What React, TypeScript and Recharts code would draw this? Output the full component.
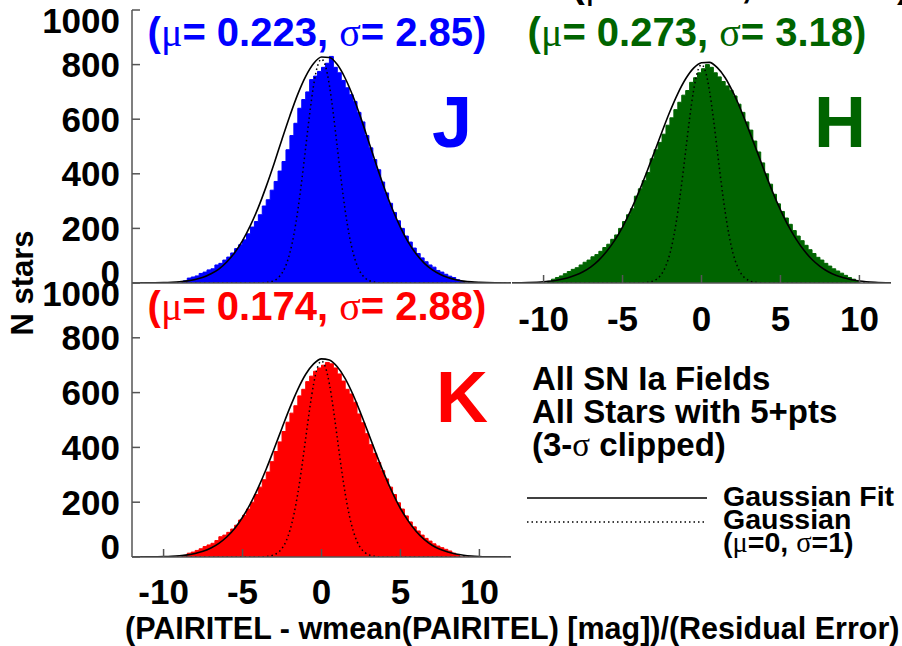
import React from 'react';
import { ComposedChart, Area, Line, XAxis, YAxis } from 'recharts';

const FONT = '"Liberation Sans", Arial, Helvetica, sans-serif';
const SERIF = '"Liberation Serif", "DejaVu Serif", serif';
const FRAME = '#555555';

const xTicks = [-10, -5, 0, 5, 10];
const yTicks = [0, 200, 400, 600, 800, 1000];

const binEdges = [
  -10, -9.75, -9.5, -9.25, -9, -8.75, -8.5, -8.25, -8, -7.75, -7.5, -7.25, -7, -6.75, -6.5, -6.25,
  -6, -5.75, -5.5, -5.25, -5, -4.75, -4.5, -4.25, -4, -3.75, -3.5, -3.25, -3, -2.75, -2.5, -2.25,
  -2, -1.75, -1.5, -1.25, -1, -0.75, -0.5, -0.25, 0, 0.25, 0.5, 0.75, 1, 1.25, 1.5, 1.75,
  2, 2.25, 2.5, 2.75, 3, 3.25, 3.5, 3.75, 4, 4.25, 4.5, 4.75, 5, 5.25, 5.5, 5.75,
  6, 6.25, 6.5, 6.75, 7, 7.25, 7.5, 7.75, 8, 8.25, 8.5, 8.75, 9, 9.25, 9.5, 9.75, 10,
];

const histJ = [
  0, 0, 0, 0, 0, 8, 18, 22, 26, 35, 40, 48, 52, 66, 72, 84,
  95, 110, 126, 140, 158, 180, 205, 225, 250, 282, 305, 340, 372, 410, 445, 488,
  540, 585, 640, 672, 700, 745, 758, 775, 790, 805, 830, 790, 770, 742, 715, 690,
  665, 625, 590, 540, 495, 452, 415, 370, 330, 292, 258, 228, 200, 172, 150, 128,
  108, 92, 78, 66, 58, 46, 40, 32, 25, 20, 12, 5, 0, 0, 0, 0, 0,
];

const histH = [
  0, 6, 14, 20, 26, 34, 42, 50, 56, 66, 76, 84, 96, 104, 116, 130,
  142, 160, 176, 200, 225, 250, 272, 318, 345, 375, 405, 455, 488, 515, 545, 578,
  605, 635, 662, 688, 705, 735, 752, 770, 785, 800, 790, 770, 755, 738, 722, 706,
  685, 655, 625, 590, 560, 520, 480, 440, 400, 362, 325, 290, 262, 238, 215, 192,
  172, 155, 138, 122, 108, 94, 84, 72, 62, 52, 44, 36, 28, 20, 14, 8, 0,
];

const histK = [
  0, 0, 0, 0, 0, 6, 14, 18, 24, 30, 38, 44, 50, 60, 74, 80,
  90, 102, 116, 135, 152, 175, 200, 228, 255, 282, 310, 348, 385, 420, 458, 492,
  525, 552, 588, 612, 640, 660, 678, 690, 700, 710, 705, 690, 668, 642, 612, 595,
  565, 522, 490, 450, 410, 378, 345, 315, 285, 255, 228, 198, 175, 150, 128, 110,
  95, 80, 68, 58, 48, 40, 34, 28, 22, 14, 8, 0, 0, 0, 0, 0, 0,
];

const fitX = [
  -12, -11, -10, -9.5, -9, -8.5, -8, -7.5, -7, -6.5, -6, -5.5, -5, -4.5, -4, -3.5, -3, -2.5, -2, -1.5, -1, -0.5,
  0, 0.5, 1, 1.5, 2, 2.5, 3, 3.5, 4, 4.5, 5, 5.5, 6, 6.5, 7, 7.5, 8, 8.5, 9, 9.5, 10, 11, 12,
];
const fitJ = [
  0.1, 0.4, 1.3, 2.5, 4.4, 7.7, 13, 21, 34, 51, 77, 111, 155, 211, 277, 354, 438, 527, 613, 692, 757, 804,
  828, 826, 800, 750, 683, 603, 516, 428, 344, 269, 204, 149, 106, 73, 49, 32, 20, 12, 7, 4, 2.3, 0.6, 0.2,
];
const fitH = [
  0.5, 1.5, 4.4, 7.2, 11.6, 18, 28, 41, 59, 84, 116, 156, 205, 263, 329, 401, 477, 554, 628, 694, 748, 787,
  807, 808, 789, 752, 698, 633, 560, 484, 407, 334, 268, 209, 160, 119, 86, 61, 42, 28, 19, 12, 7.5, 2.7, 0.9,
];
const fitK = [
  0.1, 0.4, 1.4, 2.6, 4.6, 7.8, 13, 21, 33, 50, 73, 104, 145, 195, 254, 321, 395, 471, 545, 612, 667, 705,
  723, 719, 694, 651, 592, 522, 447, 371, 299, 234, 177, 131, 93, 64, 43, 28, 18, 11, 6.6, 3.8, 2.1, 0.6, 0.2,
];

const unitX = [
  -12, -4, -3.5, -3.25, -3, -2.75, -2.5, -2.25, -2, -1.75, -1.5, -1.25, -1, -0.75, -0.5, -0.25,
  0, 0.25, 0.5, 0.75, 1, 1.25, 1.5, 1.75, 2, 2.25, 2.5, 2.75, 3, 3.25, 3.5, 4, 12,
];
const unitJ = [
  0, 0.2, 1.8, 4.2, 9.1, 18.7, 36, 65, 111, 177, 266, 375, 497, 619, 724, 795,
  820, 795, 724, 619, 497, 375, 266, 177, 111, 65, 36, 18.7, 9.1, 4.2, 1.8, 0.2, 0,
];
const unitH = [
  0, 0.2, 1.8, 4.1, 8.9, 18.2, 35, 64, 108, 173, 260, 366, 485, 604, 706, 775,
  800, 775, 706, 604, 485, 366, 260, 173, 108, 64, 35, 18.2, 8.9, 4.1, 1.8, 0.2, 0,
];
const unitK = [
  0, 0.2, 1.6, 3.6, 7.9, 16.3, 31, 57, 97, 155, 232, 327, 434, 540, 631, 693,
  715, 693, 631, 540, 434, 327, 232, 155, 97, 57, 31, 16.3, 7.9, 3.6, 1.6, 0.2, 0,
];

const XTick = (props: any) => {
  const { x, y, payload } = props;
  return (
    <text x={x} y={y} dy="0.71em" textAnchor="middle" fontFamily={FONT} fontWeight="bold" fontSize={35} fill="#000">
      {payload.value}
    </text>
  );
};

const YTick = (props: any) => {
  const { x, y, payload } = props;
  const v = payload.value;
  const shift = v === 0 ? -11 : v === 1000 ? 10 : 0;
  return (
    <text x={x} y={y + shift} dy="0.36em" textAnchor="end" fontFamily={FONT} fontWeight="bold" fontSize={35} fill="#000">
      {v}
    </text>
  );
};

type PanelProps = {
  hist: number[];
  fit: number[];
  unit: number[];
  color: string;
  width: number;
  height: number;
  margin: { top: number; right: number; bottom: number; left: number };
  xLabels: boolean;
  yLabels: boolean;
  xAxisHeight: number;
  yAxisWidth: number;
  tickMarginX: number;
};

function Panel(p: PanelProps) {
  const histData = binEdges.map((x, i) => ({ x, y: p.hist[i] }));
  const fitData = fitX.map((x, i) => ({ x, y: p.fit[i] }));
  const unitData = unitX.map((x, i) => ({ x, y: p.unit[i] }));
  const lineStyle = { stroke: FRAME, strokeWidth: 1.5 };
  return (
    <ComposedChart width={p.width} height={p.height} margin={p.margin}>
      <XAxis
        xAxisId="b"
        type="number"
        dataKey="x"
        domain={[-12, 12]}
        ticks={xTicks}
        allowDataOverflow
        interval={0}
        height={p.xAxisHeight}
        tickSize={-8}
        tickMargin={p.tickMarginX}
        tick={p.xLabels ? (props: any) => <XTick {...props} /> : false}
        axisLine={lineStyle}
        tickLine={lineStyle}
      />
      <XAxis
        xAxisId="t"
        orientation="top"
        type="number"
        domain={[-12, 12]}
        ticks={xTicks}
        allowDataOverflow
        interval={0}
        height={0}
        tickSize={-8}
        tick={false}
        axisLine={lineStyle}
        tickLine={lineStyle}
      />
      <YAxis
        yAxisId="l"
        type="number"
        domain={[0, 1000]}
        ticks={yTicks}
        allowDataOverflow
        interval={0}
        width={p.yAxisWidth}
        tickSize={-8}
        tickMargin={20}
        tick={p.yLabels ? (props: any) => <YTick {...props} /> : false}
        axisLine={lineStyle}
        tickLine={lineStyle}
      />
      <YAxis
        yAxisId="r"
        orientation="right"
        type="number"
        domain={[0, 1000]}
        ticks={yTicks}
        allowDataOverflow
        interval={0}
        width={0}
        tickSize={-8}
        tick={false}
        axisLine={lineStyle}
        tickLine={lineStyle}
      />
      <Area
        xAxisId="b"
        yAxisId="l"
        data={histData}
        dataKey="y"
        type="stepAfter"
        fill={p.color}
        fillOpacity={1}
        stroke={p.color}
        strokeWidth={1}
        dot={false}
        activeDot={false}
        isAnimationActive={false}
      />
      <Line
        xAxisId="b"
        yAxisId="l"
        data={unitData}
        dataKey="y"
        type="monotone"
        stroke="#000"
        strokeWidth={1.5}
        strokeDasharray="1.5 3"
        dot={false}
        activeDot={false}
        isAnimationActive={false}
      />
      <Line
        xAxisId="b"
        yAxisId="l"
        data={fitData}
        dataKey="y"
        type="monotone"
        stroke="#000"
        strokeWidth={1.6}
        dot={false}
        activeDot={false}
        isAnimationActive={false}
      />
    </ComposedChart>
  );
}

const Greek = ({ ch }: { ch: string }) => (
  <tspan fontFamily={SERIF} fontWeight="normal">
    {ch}
  </tspan>
);

const Title = ({ x, y, color, mu, sigma }: { x: number; y: number; color: string; mu: string; sigma: string }) => (
  <text x={x} y={y} textAnchor="middle" fontFamily={FONT} fontWeight="bold" fontSize={40} fill={color}>
    {'('}
    <Greek ch="μ" />
    {'= ' + mu + ', '}
    <Greek ch="σ" />
    {'= ' + sigma + ')'}
  </text>
);

export default function App() {
  return (
    <div style={{ position: 'absolute', left: 0, top: 0, width: 902, height: 646, background: '#fff', overflow: 'hidden' }}>
      <div style={{ position: 'absolute', left: 0, top: 0 }}>
        <Panel
          hist={histJ}
          fit={fitJ}
          unit={unitJ}
          color="#0000ff"
          width={520}
          height={290}
          margin={{ top: 10, right: 9, bottom: 0, left: 0 }}
          xLabels={false}
          yLabels={true}
          xAxisHeight={7}
          yAxisWidth={132}
          tickMarginX={30}
        />
      </div>
      <div style={{ position: 'absolute', left: 500, top: 0 }}>
        <Panel
          hist={histH}
          fit={fitH}
          unit={unitH}
          color="#006400"
          width={402}
          height={345}
          margin={{ top: 10, right: 11, bottom: 0, left: 12 }}
          xLabels={true}
          yLabels={false}
          xAxisHeight={62}
          yAxisWidth={0}
          tickMarginX={31}
        />
      </div>
      <div style={{ position: 'absolute', left: 0, top: 273 }}>
        <Panel
          hist={histK}
          fit={fitK}
          unit={unitK}
          color="#ff0000"
          width={520}
          height={373}
          margin={{ top: 10, right: 9, bottom: 0, left: 0 }}
          xLabels={true}
          yLabels={true}
          xAxisHeight={89}
          yAxisWidth={132}
          tickMarginX={30}
        />
      </div>
      <svg width={902} height={646} style={{ position: 'absolute', left: 0, top: 0, pointerEvents: 'none' }}>
        <Title x={317} y={46} color="#0000ff" mu="0.223" sigma="2.85" />
        <Title x={697} y={46} color="#006400" mu="0.273" sigma="3.18" />
        <Title x={317} y={320} color="#ff0000" mu="0.174" sigma="2.88" />
        <Title x={741} y={-3} color="#000" mu="0.273" sigma="3.18" />
        <text x={452} y={147} textAnchor="middle" fontFamily={FONT} fontWeight="bold" fontSize={72} fill="#0000ff">J</text>
        <text x={840} y={147} textAnchor="middle" fontFamily={FONT} fontWeight="bold" fontSize={72} fill="#006400">H</text>
        <text x={462} y={422} textAnchor="middle" fontFamily={FONT} fontWeight="bold" fontSize={72} fill="#ff0000">K</text>
        <text
          x={33}
          y={283}
          transform="rotate(-90 33 283)"
          textAnchor="middle"
          fontFamily={FONT}
          fontWeight="bold"
          fontSize={31}
          fill="#000"
        >
          N stars
        </text>
        <text x={125} y={639} fontFamily={FONT} fontWeight="bold" fontSize={30.5} fill="#000">
          (PAIRITEL - wmean(PAIRITEL) [mag])/(Residual Error)
        </text>
        <g fontFamily={FONT} fontWeight="bold" fontSize={33} fill="#000">
          <text x={532} y={390}>All SN Ia Fields</text>
          <text x={532} y={423}>All Stars with 5+pts</text>
          <text x={532} y={456}>
            {'(3-'}
            <Greek ch="σ" />
            {' clipped)'}
          </text>
        </g>
        <line x1={527} y1={498} x2={707} y2={498} stroke="#000" strokeWidth={1.5} />
        <line x1={527} y1={522} x2={707} y2={522} stroke="#000" strokeWidth={1.5} strokeDasharray="1.5 3" />
        <g fontFamily={FONT} fontWeight="bold" fontSize={28.5} fill="#000">
          <text x={723} y={506}>Gaussian Fit</text>
          <text x={723} y={529}>Gaussian</text>
          <text x={723} y={552}>
            {'('}
            <Greek ch="μ" />
            {'=0, '}
            <Greek ch="σ" />
            {'=1)'}
          </text>
        </g>
      </svg>
    </div>
  );
}
